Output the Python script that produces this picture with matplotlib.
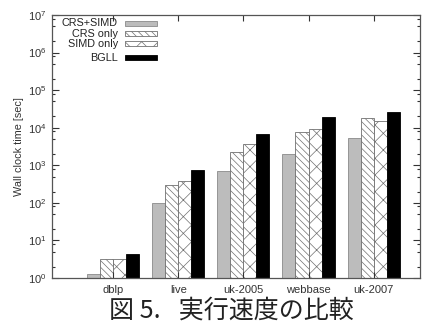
import numpy as np
import matplotlib
matplotlib.use('Agg')
import matplotlib.pyplot as plt
from matplotlib.patches import Rectangle
from matplotlib.ticker import LogLocator, NullFormatter

plt.rcParams['font.family'] = ['Liberation Sans', 'DejaVu Sans']
plt.rcParams['mathtext.fontset'] = 'custom'
plt.rcParams['mathtext.rm'] = 'Liberation Sans'
plt.rcParams['hatch.linewidth'] = 0.5

# data
graphs = ['dblp', 'live', 'uk-2005', 'webbase', 'uk-2007']
series = ['CRS+SIMD', 'CRS only', 'SIMD only', 'BGLL']
crs_simd = [1.28, 100, 710, 2000, 5300]
crs_only = [3.3, 300, 2300, 7800, 18000]
simd_only = [3.15, 390, 3700, 9200, 15000]
bgll = [4.4, 760, 7000, 19000, 26000]

values = [crs_simd, crs_only, simd_only, bgll]
faces = ['#bcbcbc', 'white', 'white', 'black']
edges = ['#8a8a8a', '#707070', '#707070', 'black']
hatches = [None, '\\\\\\\\\\', 'xx', None]

fig = plt.figure(figsize=(4.22, 3.25), dpi=100)
ax = fig.add_axes([0.123, 0.1446, 0.872, 0.8094])

x = np.arange(len(graphs))
w = 0.2
for k in range(4):
    ax.bar(x + (k - 1.5) * w, values[k], w, bottom=1e-3, color=faces[k],
           edgecolor=edges[k], hatch=hatches[k], linewidth=0.6)

ax.set_yscale('log')
ax.set_ylim(1, 1e7)
ax.set_xlim(-0.94, 4.71)
ax.yaxis.set_major_locator(LogLocator(base=10, numticks=10))
ax.yaxis.set_minor_locator(LogLocator(base=10, subs=(2, 5, 8), numticks=10))
ax.yaxis.set_minor_formatter(NullFormatter())
ax.set_xticks(x)
ax.set_xticklabels(graphs)
ax.tick_params(axis='both', which='both', direction='in', top=True, right=True,
               labelsize=8, colors='#333333', width=0.8)
ax.tick_params(axis='y', which='major', length=5, pad=4)
ax.tick_params(axis='y', which='minor', length=2.5)
ax.tick_params(axis='x', which='major', length=4, pad=5)
for s in ax.spines.values():
    s.set_color('#555555')
    s.set_linewidth(0.9)
ax.set_ylabel('Wall clock time [sec]', fontsize=7.8, color='#333333', labelpad=3)

# legend: labels right-aligned, sample boxes to the right
rows = [0.968, 0.929, 0.890, 0.838]
for k in range(4):
    ax.text(0.179, rows[k], series[k], transform=ax.transAxes, ha='right',
            va='center', fontsize=7.8, color='#222222')
    ax.add_patch(Rectangle((0.198, rows[k] - 0.0095), 0.087, 0.019,
                           transform=ax.transAxes, facecolor=faces[k],
                           edgecolor=edges[k], hatch=hatches[k],
                           linewidth=0.6, clip_on=False))

fig.text(0.548, 0.045, '図 5.\u2002 実行速度の比較', ha='center', va='center',
         fontsize=18, family=['Noto Sans CJK JP', 'DejaVu Sans'], color='#222222')

fig.savefig('out.png', dpi=100)
